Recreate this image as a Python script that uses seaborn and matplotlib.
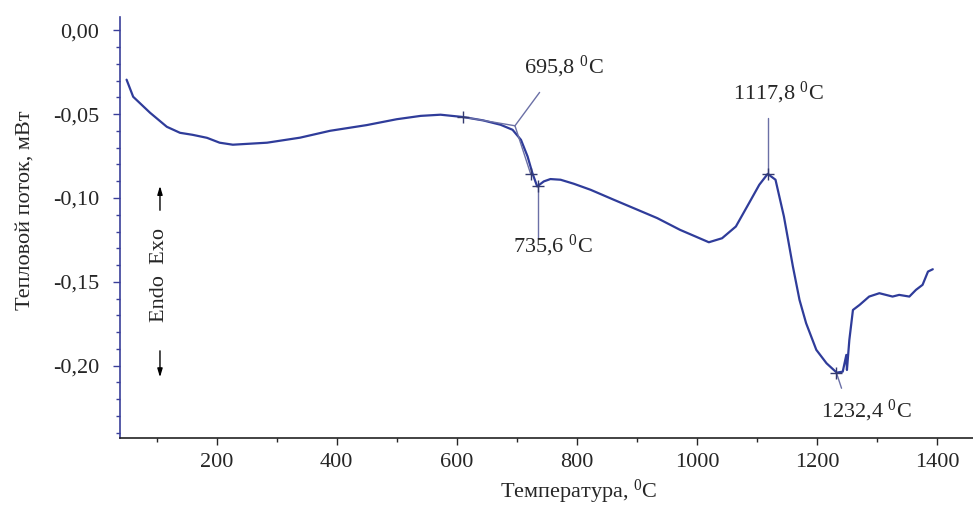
import matplotlib
matplotlib.use("Agg")
import matplotlib.pyplot as plt
from matplotlib.ticker import FuncFormatter, MultipleLocator
import seaborn as sns

# DTA curve
temperature = [50, 61, 89, 117, 139, 160, 184, 205, 227, 284,
               339, 389, 450, 500, 540, 573, 611, 644, 673, 693,
               707, 718, 726, 734, 745, 756, 773, 795, 823, 862,
               901, 934, 972, 998, 1020, 1042, 1065, 1087, 1104, 1118,
               1131, 1145, 1152, 1160, 1171, 1182, 1199, 1216, 1233, 1243,
               1249, 1250, 1254, 1260, 1271, 1287, 1304, 1326, 1337, 1354,
               1365, 1376, 1385, 1393]
heat_flow = [-0.0294, -0.0396, -0.0491, -0.0575, -0.0611, -0.0623, -0.0641, -0.0670, -0.0682, -0.0670,
             -0.0640, -0.0599, -0.0565, -0.0530, -0.0510, -0.0503, -0.0517, -0.0537, -0.0563, -0.0593,
             -0.0653, -0.0752, -0.0851, -0.0931, -0.0901, -0.0887, -0.0891, -0.0915, -0.0951, -0.1011,
             -0.1070, -0.1120, -0.1190, -0.1230, -0.1264, -0.1240, -0.1170, -0.1030, -0.0921, -0.0856,
             -0.0891, -0.1110, -0.1249, -0.1409, -0.1608, -0.1747, -0.1906, -0.1986, -0.2042, -0.2036,
             -0.1936, -0.2026, -0.1847, -0.1668, -0.1638, -0.1588, -0.1568, -0.1588, -0.1578, -0.1588,
             -0.1548, -0.1518, -0.1439, -0.1425]

# onset construction at 695,8
onset_base_t = [611, 697]
onset_base_v = [-0.0517, -0.0569]
onset_tan_t = [697, 723]
onset_tan_v = [-0.0569, -0.0855]
onset_lead_t = [697, 738]
onset_lead_v = [-0.0569, -0.0370]

# events: point on curve, end of leader, label position
event_labels = ["735,6", "1117,8", "1232,4"]
event_t = [735.6, 1117.8, 1232.4]
event_v = [-0.0931, -0.0856, -0.2042]
lead_end_t = [735.6, 1117.8, 1241]
lead_end_v = [-0.1238, -0.0523, -0.2135]
label_t = [760, 1136, 1282]
label_v = [-0.1285, -0.0372, -0.2270]

x_ticks = [200, 400, 600, 800, 1000, 1200, 1400]
y_ticks = [0.0, -0.05, -0.10, -0.15, -0.20]

sns.set_style("ticks")
plt.rcParams["font.family"] = ["Liberation Serif", "DejaVu Serif"]

curve_col = "#2f3c9a"
lead_col = "#6b70a6"
fs = 16

fig = plt.figure(figsize=(9.73, 5.07), dpi=100)
ax = fig.add_axes([0.1233, 0.1367, 0.8767, 0.8298])

sns.lineplot(x=temperature, y=heat_flow, sort=False, estimator=None,
             color=curve_col, linewidth=1.6, ax=ax)

ax.plot(onset_base_t, onset_base_v, color=lead_col, lw=1)
ax.plot(onset_tan_t, onset_tan_v, color=lead_col, lw=1)
ax.plot(onset_lead_t, onset_lead_v, color=lead_col, lw=1)
ax.plot([onset_base_t[0], onset_tan_t[1]], [onset_base_v[0], onset_tan_v[1]],
        ls="none", marker="+", ms=9, mew=1, color="#333a70")
ax.text(778, -0.0217, r"695,8 $\mathregular{^0}$C", fontsize=fs, ha="center", va="center")

for lab, t, v, lt, lv, tx, ty in zip(event_labels, event_t, event_v,
                                     lead_end_t, lead_end_v, label_t, label_v):
    ax.plot([t, lt], [v, lv], color=lead_col, lw=1)
    ax.plot([t], [v], ls="none", marker="+", ms=9, mew=1, color="#333a70")
    ax.text(tx, ty, lab + r" $\mathregular{^0}$C", fontsize=fs, ha="center", va="center")

ax.set_xlim(39, 1460)
ax.set_ylim(-0.243, 0.008)
ax.set_xticks(x_ticks)
ax.set_yticks(y_ticks)
ax.xaxis.set_minor_locator(MultipleLocator(100))
ax.yaxis.set_minor_locator(MultipleLocator(0.01))
ax.yaxis.set_major_formatter(FuncFormatter(
    lambda v, p: ("0,00" if abs(v) < 1e-9 else f"{v:.2f}".replace(".", ","))))

ax.tick_params(axis="x", which="major", length=5, width=1, labelsize=fs, pad=6)
ax.tick_params(axis="x", which="minor", length=3, width=1)
ax.tick_params(axis="y", which="major", length=5, width=1, labelsize=fs,
               color="#3a3f9a", pad=10)
ax.tick_params(axis="y", which="minor", length=3, width=1, color="#3a3f9a")

sns.despine(ax=ax)
ax.spines["left"].set_color("#3a3f9a")
ax.spines["left"].set_linewidth(1.2)
ax.spines["bottom"].set_color("#222222")
ax.spines["bottom"].set_linewidth(1.2)

ax.set_xlabel(r"Температура, $\mathregular{^0}$C", fontsize=fs, va="center")
ax.xaxis.set_label_coords(0.538, -0.13)
ax.set_ylabel("Тепловой поток, мВт", fontsize=fs)
ax.yaxis.set_label_coords(-0.1, 0.54)

# Endo / Exo marker
ax.text(0.0469, 0.387, "Endo  Exo", rotation=90, fontsize=fs,
        ha="center", va="center", transform=ax.transAxes)
arrow = dict(arrowstyle="-|>,head_length=0.5,head_width=0.15", color="black", lw=1)
ax.annotate("", xy=(0.0469, 0.605), xytext=(0.0469, 0.534),
            xycoords="axes fraction", arrowprops=arrow)
ax.annotate("", xy=(0.0469, 0.137), xytext=(0.0469, 0.213),
            xycoords="axes fraction", arrowprops=arrow)

fig.savefig("out.png", dpi=100)
